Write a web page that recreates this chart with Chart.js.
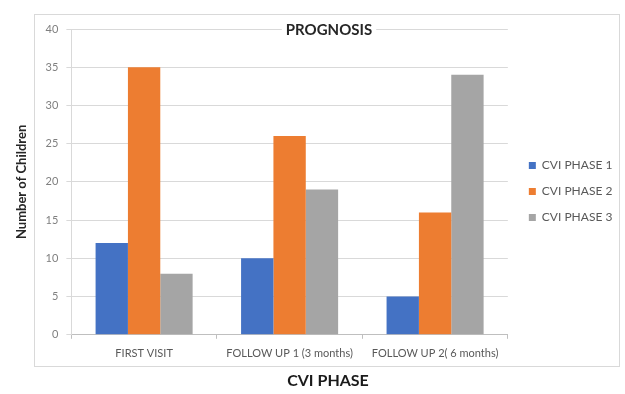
<!DOCTYPE html>
<html>
<head>
<meta charset="utf-8">
<script src="https://cdn.jsdelivr.net/npm/chart.js@4/dist/chart.umd.min.js"></script>
<style>
  html, body { margin: 0; padding: 0; background: #ffffff; }
  #wrap { width: 625px; height: 394px; }
</style>
</head>
<body>
<div id="wrap"><canvas id="c" width="625" height="394"></canvas></div>
<script>
const categories = ['FIRST VISIT', 'FOLLOW UP 1 (3 months)', 'FOLLOW UP 2( 6 months)'];
const seriesNames = ['CVI PHASE 1', 'CVI PHASE 2', 'CVI PHASE 3'];
const phase1 = [12, 10, 5];
const phase2 = [35, 26, 16];
const phase3 = [8, 19, 34];
const yTicks = [0, 5, 10, 15, 20, 25, 30, 35, 40];
const chartTitle = 'PROGNOSIS';
const xTitle = 'CVI PHASE';
const yTitle = 'Number of Children';

const FONT = 'Lato, "Open Sans", sans-serif';

const framePlugin = {
  id: 'frame',
  beforeDraw(chart) {
    const ctx = chart.ctx;
    ctx.save();
    ctx.fillStyle = '#ffffff';
    ctx.fillRect(0, 0, chart.width, chart.height);
    ctx.strokeStyle = '#d9d9d9';
    ctx.lineWidth = 1;
    ctx.strokeRect(34.5, 14.5, 585, 352);
    ctx.restore();
  },
  afterDraw(chart) {
    const ctx = chart.ctx;
    ctx.save();
    ctx.font = 'bold 15px ' + FONT;
    ctx.textAlign = 'center';
    ctx.textBaseline = 'middle';
    const w = ctx.measureText(chartTitle).width;
    ctx.fillStyle = '#ffffff';
    ctx.fillRect(329 - w / 2 - 4, 21, w + 8, 18);
    ctx.fillStyle = '#262626';
    ctx.fillText(chartTitle, 329, 30);
    ctx.font = 'bold 16px ' + FONT;
    ctx.fillStyle = '#1a1a1a';
    ctx.fillText(xTitle, 328, 381);
    ctx.restore();
  }
};

new Chart(document.getElementById('c'), {
  type: 'bar',
  data: {
    labels: categories,
    datasets: [
      { label: seriesNames[0], data: phase1, backgroundColor: '#4472C4' },
      { label: seriesNames[1], data: phase2, backgroundColor: '#ED7D31' },
      { label: seriesNames[2], data: phase3, backgroundColor: '#A5A5A5' }
    ]
  },
  options: {
    responsive: false,
    animation: false,
    devicePixelRatio: 1,
    layout: { padding: { left: 14, right: 10, top: 29, bottom: 26 } },
    datasets: { bar: { barPercentage: 1, categoryPercentage: 0.667 } },
    plugins: {
      title: { display: false },
      tooltip: { enabled: false },
      legend: {
        position: 'right',
        fullSize: false,
        title: { display: true, text: '', font: { size: 1 }, padding: { top: 0, bottom: 18 } },
        labels: {
          boxWidth: 7, boxHeight: 7, padding: 14,
          color: '#595959',
          font: { family: FONT, size: 12 }
        }
      }
    },
    scales: {
      x: {
        grid: { drawOnChartArea: false, drawTicks: true, tickLength: 4, color: '#bfbfbf' },
        border: { color: '#bfbfbf' },
        ticks: { color: '#595959', font: { family: FONT, size: 11 }, padding: 8, maxRotation: 0, autoSkip: false }
      },
      y: {
        min: 0, max: 40,
        afterBuildTicks(axis) { axis.ticks = yTicks.map(v => ({ value: v })); },
        grid: { color: '#d9d9d9', tickLength: 5 },
        border: { color: '#d9d9d9' },
        ticks: { color: '#7f7f7f', font: { family: FONT, size: 11 }, padding: 8 },
        title: {
          display: true, text: yTitle, color: '#262626',
          font: { family: FONT, size: 13, weight: 'bold' },
          padding: { top: 0, bottom: 8 }
        }
      },
      gap: {
        type: 'linear', position: 'right', display: true,
        grid: { display: false, drawTicks: false }, border: { display: false },
        ticks: { display: false },
        afterFit(scale) { scale.width = 7; }
      }
    }
  },
  plugins: [framePlugin]
});
</script>
</body>
</html>
